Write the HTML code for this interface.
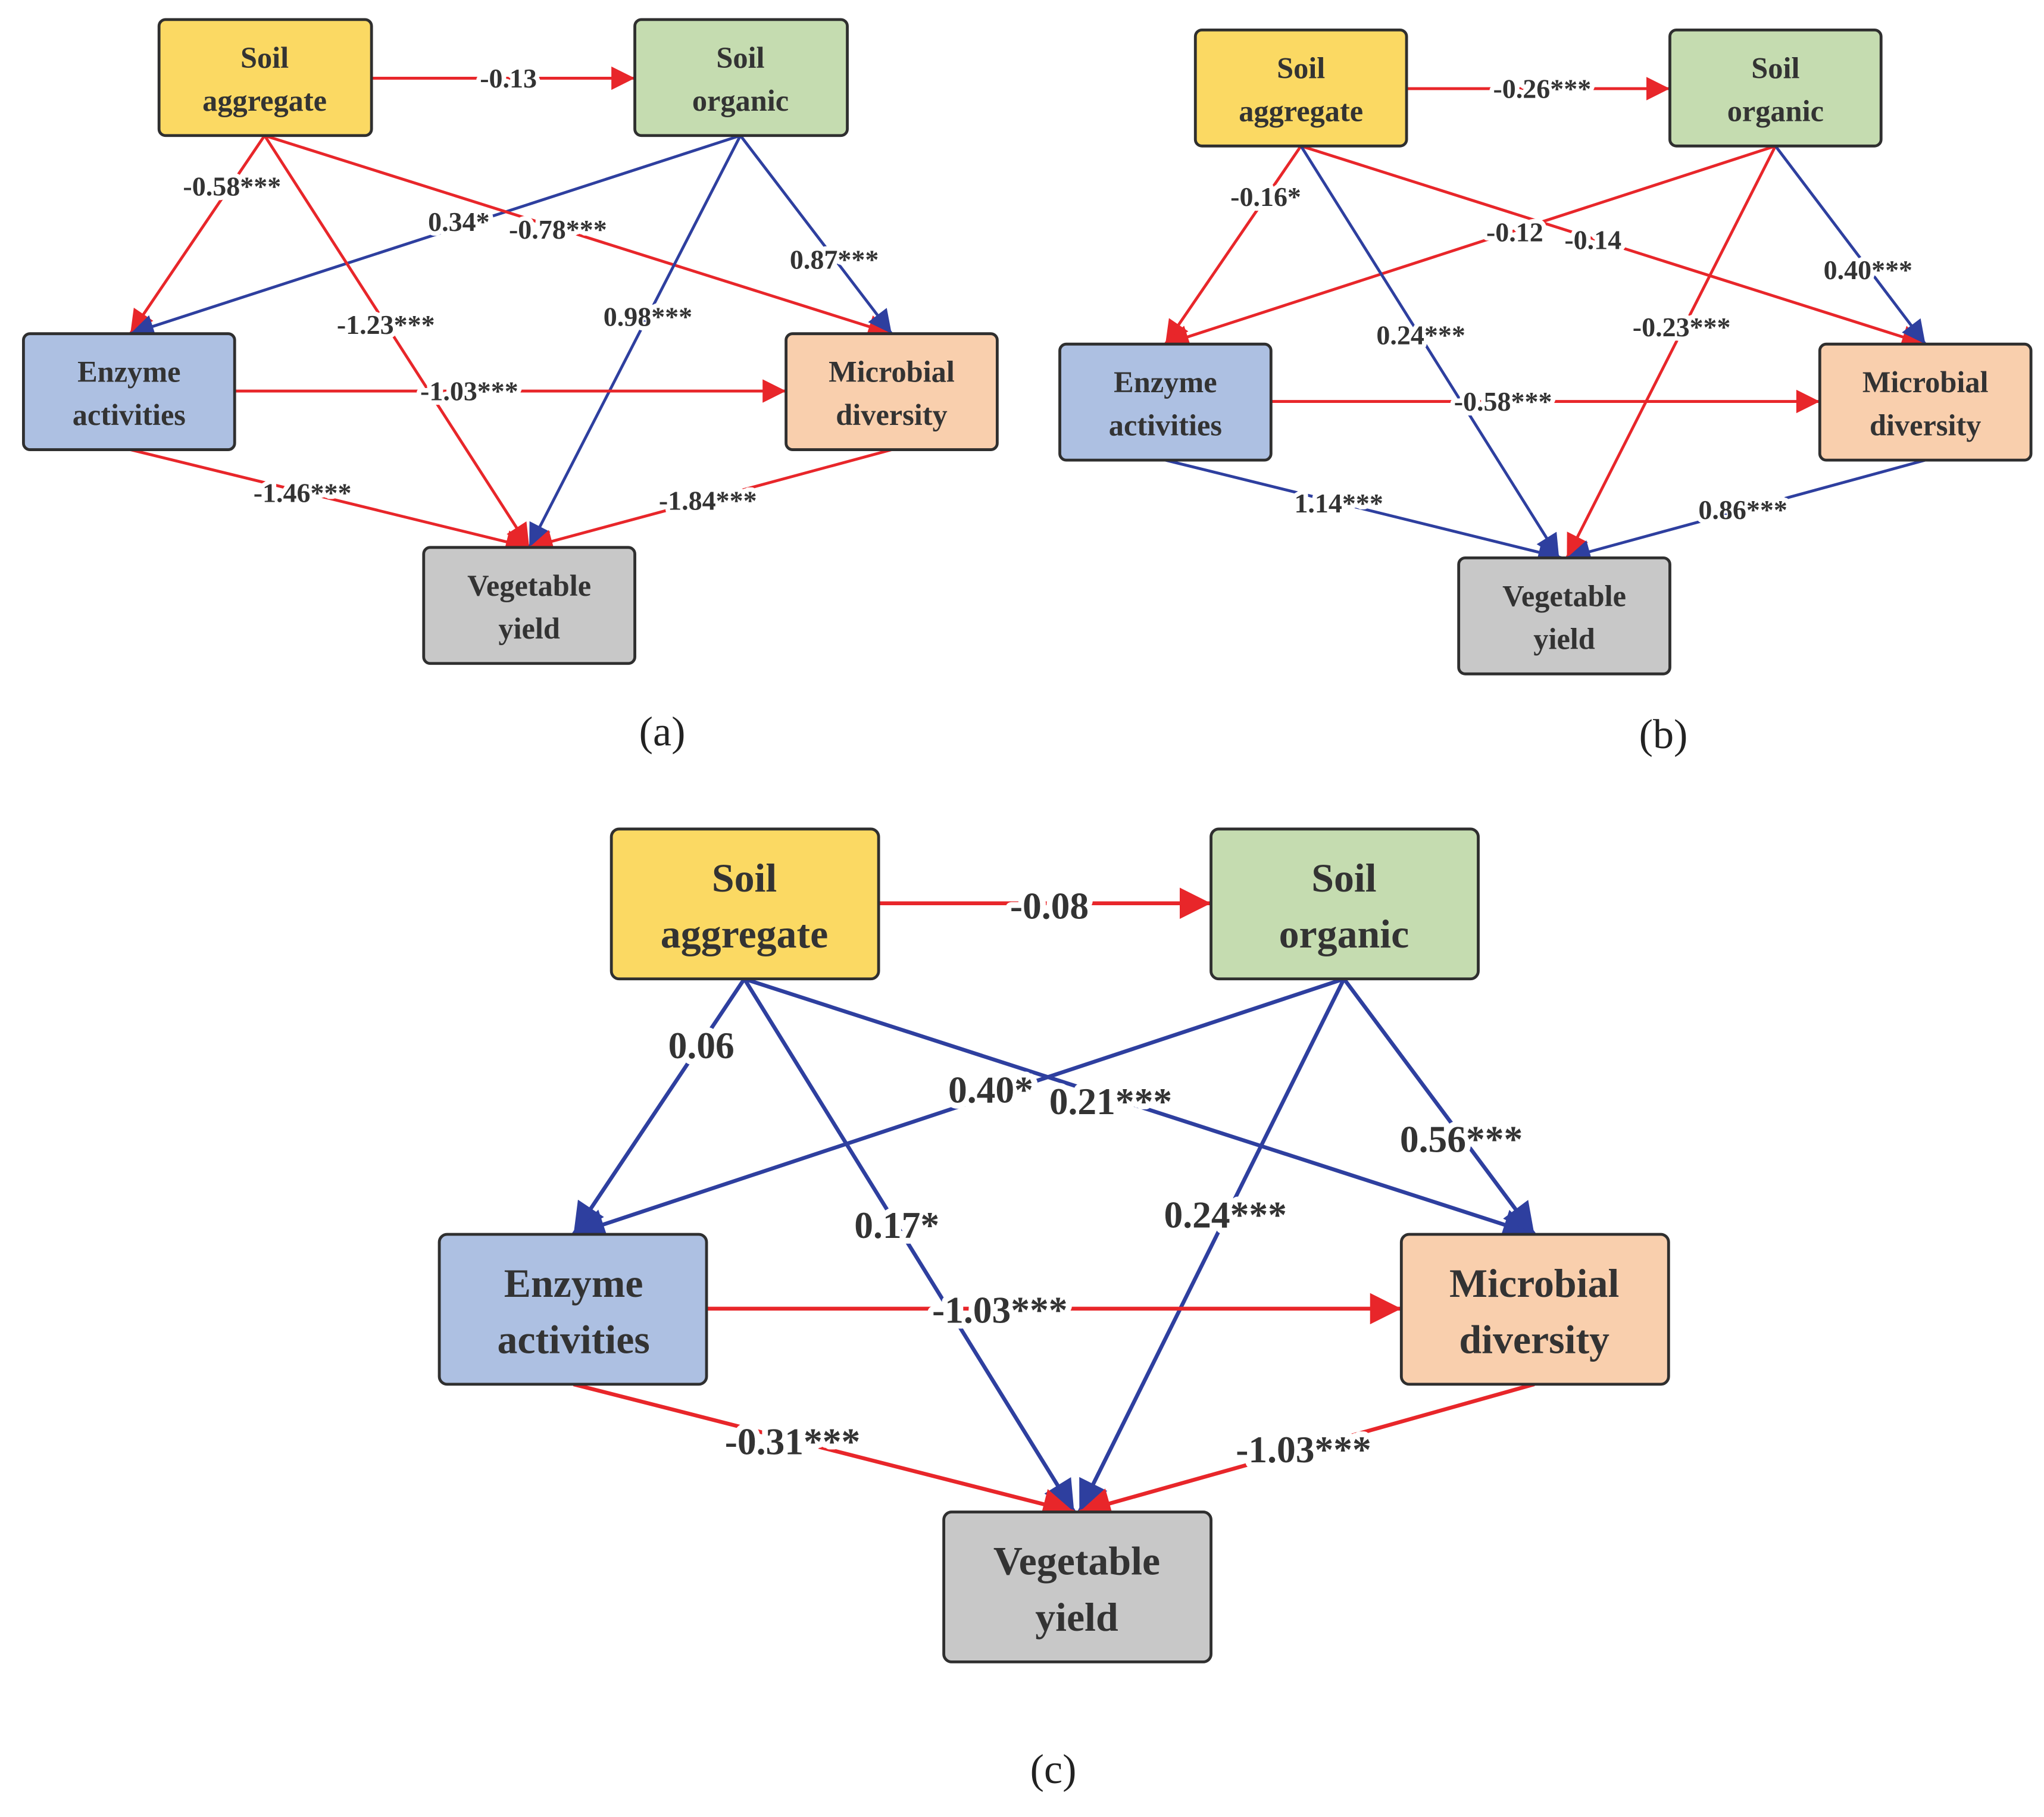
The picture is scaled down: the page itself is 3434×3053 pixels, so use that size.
<!DOCTYPE html>
<html><head><meta charset="utf-8"><style>
html,body{margin:0;padding:0;background:#fff;}
svg{display:block;}
.bx{stroke:#2f2f2f;stroke-width:2.2;}
.bt{font-family:"Liberation Serif",serif;font-weight:bold;fill:#333;text-anchor:middle;}
.lb{font-family:"Liberation Serif",serif;font-weight:bold;fill:#333;text-anchor:middle;dominant-baseline:central;paint-order:stroke;stroke:#fff;stroke-linejoin:round;}
.r{stroke:#e8262a;fill:none;}
.b{stroke:#2e3f9f;fill:none;}
.cap{font-family:"Liberation Serif",serif;fill:#222;text-anchor:middle;font-size:32px;}
</style></head><body>
<svg width="3434" height="3053" viewBox="0 0 1568 1394" preserveAspectRatio="none" xmlns="http://www.w3.org/2000/svg">
<defs>
<marker id="ar" viewBox="0 0 10 10" refX="10" refY="5" markerUnits="userSpaceOnUse" markerWidth="22" markerHeight="18" orient="auto"><path d="M0,0L10,5L0,10z" fill="#e8262a"/></marker>
<marker id="ab" viewBox="0 0 10 10" refX="10" refY="5" markerUnits="userSpaceOnUse" markerWidth="22" markerHeight="18" orient="auto"><path d="M0,0L10,5L0,10z" fill="#2e3f9f"/></marker>
<marker id="arL" viewBox="0 0 10 10" refX="10" refY="5" markerUnits="userSpaceOnUse" markerWidth="28" markerHeight="24" orient="auto"><path d="M0,0L10,5L0,10z" fill="#e8262a"/></marker>
<marker id="abL" viewBox="0 0 10 10" refX="10" refY="5" markerUnits="userSpaceOnUse" markerWidth="28" markerHeight="24" orient="auto"><path d="M0,0L10,5L0,10z" fill="#2e3f9f"/></marker>
</defs>

<!-- Panel A edges -->
<g stroke-width="2.2">
<line class="r" x1="285" y1="60" x2="487" y2="60" marker-end="url(#ar)"/>
<line class="r" x1="203" y1="104" x2="100" y2="256" marker-end="url(#ar)"/>
<line class="b" x1="568" y1="104" x2="100" y2="256" marker-end="url(#ab)"/>
<line class="r" x1="203" y1="104" x2="684" y2="256" marker-end="url(#ar)"/>
<line class="r" x1="203" y1="104" x2="406" y2="420" marker-end="url(#ar)"/>
<line class="b" x1="568" y1="104" x2="406" y2="420" marker-end="url(#ab)"/>
<line class="b" x1="568" y1="104" x2="684" y2="256" marker-end="url(#ab)"/>
<line class="r" x1="180" y1="300" x2="603" y2="300" marker-end="url(#ar)"/>
<line class="r" x1="100" y1="345" x2="406" y2="420" marker-end="url(#ar)"/>
<line class="r" x1="684" y1="345" x2="406" y2="420" marker-end="url(#ar)"/>
</g>
<g class="lb" font-size="21" stroke-width="7">
<text x="390" y="60">-0.13</text>
<text x="178" y="143">-0.58***</text>
<text x="352" y="170">0.34*</text>
<text x="428" y="176">-0.78***</text>
<text x="296" y="249">-1.23***</text>
<text x="497" y="243">0.98***</text>
<text x="640" y="199">0.87***</text>
<text x="360" y="300">-1.03***</text>
<text x="232" y="378">-1.46***</text>
<text x="543" y="384">-1.84***</text>
</g>
<rect class="bx" x="122" y="15" width="163" height="89" rx="5" fill="#fbd963"/>
<rect class="bx" x="487" y="15" width="163" height="89" rx="5" fill="#c5dcb0"/>
<rect class="bx" x="18" y="256" width="162" height="89" rx="5" fill="#adc0e2"/>
<rect class="bx" x="603" y="256" width="162" height="89" rx="5" fill="#f9cfad"/>
<rect class="bx" x="325" y="420" width="162" height="89" rx="5" fill="#c8c8c8"/>
<g class="bt" font-size="23">
<text x="203" y="52">Soil</text><text x="203" y="85">aggregate</text>
<text x="568" y="52">Soil</text><text x="568" y="85">organic</text>
<text x="99" y="293">Enzyme</text><text x="99" y="326">activities</text>
<text x="684" y="293">Microbial</text><text x="684" y="326">diversity</text>
<text x="406" y="457">Vegetable</text><text x="406" y="490">yield</text>
</g>
<text class="cap" x="508" y="572">(a)</text>

<!-- Panel B edges -->
<g stroke-width="2.2">
<line class="r" x1="1079" y1="68" x2="1281" y2="68" marker-end="url(#ar)"/>
<line class="r" x1="998" y1="112" x2="894" y2="264" marker-end="url(#ar)"/>
<line class="r" x1="1362" y1="112" x2="894" y2="264" marker-end="url(#ar)"/>
<line class="r" x1="998" y1="112" x2="1477" y2="264" marker-end="url(#ar)"/>
<line class="b" x1="998" y1="112" x2="1196" y2="428" marker-end="url(#ab)"/>
<line class="r" x1="1362" y1="112" x2="1202" y2="428" marker-end="url(#ar)"/>
<line class="b" x1="1362" y1="112" x2="1477" y2="264" marker-end="url(#ab)"/>
<line class="r" x1="975" y1="308" x2="1396" y2="308" marker-end="url(#ar)"/>
<line class="b" x1="894" y1="353" x2="1198" y2="428" marker-end="url(#ab)"/>
<line class="b" x1="1477" y1="353" x2="1202" y2="428" marker-end="url(#ab)"/>
</g>
<g class="lb" font-size="21" stroke-width="7">
<text x="1183" y="68">-0.26***</text>
<text x="971" y="151">-0.16*</text>
<text x="1162" y="178">-0.12</text>
<text x="1222" y="184">-0.14</text>
<text x="1090" y="257">0.24***</text>
<text x="1290" y="251">-0.23***</text>
<text x="1433" y="207">0.40***</text>
<text x="1153" y="308">-0.58***</text>
<text x="1027" y="386">1.14***</text>
<text x="1337" y="391">0.86***</text>
</g>
<rect class="bx" x="917" y="23" width="162" height="89" rx="5" fill="#fbd963"/>
<rect class="bx" x="1281" y="23" width="162" height="89" rx="5" fill="#c5dcb0"/>
<rect class="bx" x="813" y="264" width="162" height="89" rx="5" fill="#adc0e2"/>
<rect class="bx" x="1396" y="264" width="162" height="89" rx="5" fill="#f9cfad"/>
<rect class="bx" x="1119" y="428" width="162" height="89" rx="5" fill="#c8c8c8"/>
<g class="bt" font-size="23">
<text x="998" y="60">Soil</text><text x="998" y="93">aggregate</text>
<text x="1362" y="60">Soil</text><text x="1362" y="93">organic</text>
<text x="894" y="301">Enzyme</text><text x="894" y="334">activities</text>
<text x="1477" y="301">Microbial</text><text x="1477" y="334">diversity</text>
<text x="1200" y="465">Vegetable</text><text x="1200" y="498">yield</text>
</g>
<text class="cap" x="1276" y="574">(b)</text>

<!-- Panel C edges -->
<g stroke-width="3">
<line class="r" x1="674" y1="693" x2="929" y2="693" marker-end="url(#arL)"/>
<line class="b" x1="571" y1="751" x2="440" y2="947" marker-end="url(#abL)"/>
<line class="b" x1="1031" y1="751" x2="440" y2="947" marker-end="url(#abL)"/>
<line class="b" x1="571" y1="751" x2="1177" y2="947" marker-end="url(#abL)"/>
<line class="b" x1="571" y1="751" x2="824" y2="1160" marker-end="url(#abL)"/>
<line class="b" x1="1031" y1="751" x2="828" y2="1160" marker-end="url(#abL)"/>
<line class="b" x1="1031" y1="751" x2="1177" y2="947" marker-end="url(#abL)"/>
<line class="r" x1="542" y1="1004" x2="1075" y2="1004" marker-end="url(#arL)"/>
<line class="r" x1="440" y1="1062" x2="824" y2="1160" marker-end="url(#arL)"/>
<line class="r" x1="1177" y1="1062" x2="828" y2="1160" marker-end="url(#arL)"/>
</g>
<g class="lb" font-size="29" stroke-width="9">
<text x="805" y="695">-0.08</text>
<text x="538" y="802">0.06</text>
<text x="760" y="836">0.40*</text>
<text x="852" y="845">0.21***</text>
<text x="688" y="940">0.17*</text>
<text x="940" y="932">0.24***</text>
<text x="1121" y="874">0.56***</text>
<text x="767" y="1005">-1.03***</text>
<text x="608" y="1106">-0.31***</text>
<text x="1000" y="1112">-1.03***</text>
</g>
<rect class="bx" x="469" y="636" width="205" height="115" rx="6" fill="#fbd963" stroke-width="3"/>
<rect class="bx" x="929" y="636" width="205" height="115" rx="6" fill="#c5dcb0" stroke-width="3"/>
<rect class="bx" x="337" y="947" width="205" height="115" rx="6" fill="#adc0e2" stroke-width="3"/>
<rect class="bx" x="1075" y="947" width="205" height="115" rx="6" fill="#f9cfad" stroke-width="3"/>
<rect class="bx" x="724" y="1160" width="205" height="115" rx="6" fill="#c8c8c8" stroke-width="3"/>
<g class="bt" font-size="31">
<text x="571" y="684">Soil</text><text x="571" y="727">aggregate</text>
<text x="1031" y="684">Soil</text><text x="1031" y="727">organic</text>
<text x="440" y="995">Enzyme</text><text x="440" y="1038">activities</text>
<text x="1177" y="995">Microbial</text><text x="1177" y="1038">diversity</text>
<text x="826" y="1208">Vegetable</text><text x="826" y="1251">yield</text>
</g>
<text class="cap" x="808" y="1368">(c)</text>
</svg>
</body></html>
